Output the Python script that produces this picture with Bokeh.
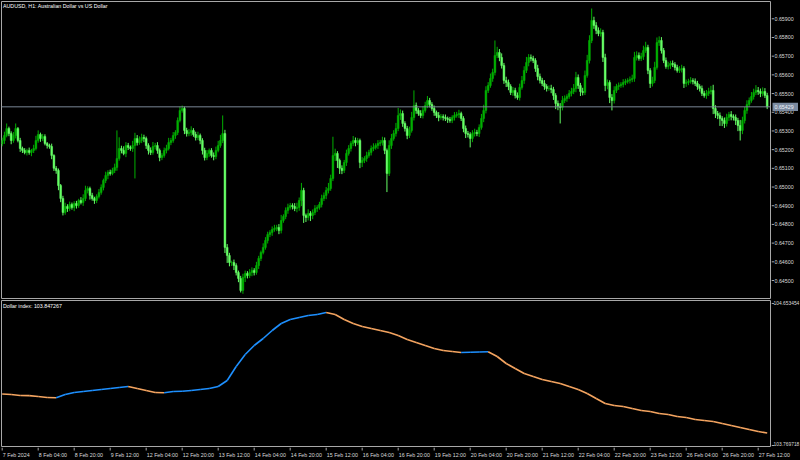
from bokeh.plotting import figure
from bokeh.layouts import column, row
from bokeh.models import Range1d, Span, ColumnDataSource
from bokeh.core.properties import value
from bokeh.embed import file_html
from bokeh.resources import INLINE

# ---------------- data (AUDUSD H1, 7 Feb 2024 12:00 -> 27 Feb 2024 16:00) ----------------
first_open = 0.65230
closes = [
    0.65249, 0.65276, 0.65313, 0.65286, 0.65249, 0.65276, 0.65313, 0.65249, 0.65206, 0.65196,
    0.65185, 0.65196, 0.65185, 0.65196, 0.65206, 0.65249, 0.65281, 0.65260, 0.65270, 0.65233,
    0.65222, 0.65217, 0.65169, 0.65100, 0.65089, 0.65008, 0.64939, 0.64864, 0.64896, 0.64885,
    0.64907, 0.64891, 0.64912, 0.64901, 0.64928, 0.64917, 0.64939, 0.64982, 0.64992, 0.64955,
    0.64939, 0.64928, 0.64949, 0.64971, 0.64998, 0.65035, 0.65062, 0.65078, 0.65073, 0.65089,
    0.65105, 0.65153, 0.65206, 0.65196, 0.65180, 0.65222, 0.65212, 0.65206, 0.65222, 0.65260,
    0.65238, 0.65249, 0.65265, 0.65260, 0.65222, 0.65196, 0.65185, 0.65217, 0.65222, 0.65196,
    0.65158, 0.65169, 0.65196, 0.65206, 0.65238, 0.65249, 0.65276, 0.65292, 0.65356, 0.65410,
    0.65420, 0.65303, 0.65286, 0.65292, 0.65303, 0.65281, 0.65265, 0.65276, 0.65249, 0.65196,
    0.65158, 0.65180, 0.65196, 0.65169, 0.65163, 0.65196, 0.65222, 0.65249, 0.65286, 0.64677,
    0.64634, 0.64596, 0.64596, 0.64580, 0.64543, 0.64511, 0.64447, 0.64516, 0.64538, 0.64527,
    0.64543, 0.64554, 0.64543, 0.64580, 0.64618, 0.64650, 0.64677, 0.64714, 0.64746, 0.64757,
    0.64773, 0.64778, 0.64784, 0.64768, 0.64821, 0.64842, 0.64875, 0.64891, 0.64901, 0.64896,
    0.64885, 0.64891, 0.64928, 0.64982, 0.64848, 0.64837, 0.64859, 0.64848, 0.64864, 0.64885,
    0.64891, 0.64907, 0.64939, 0.64955, 0.64982, 0.64992, 0.65046, 0.65169, 0.65180, 0.65142,
    0.65100, 0.65089, 0.65131, 0.65180, 0.65206, 0.65233, 0.65249, 0.65238, 0.65249, 0.65131,
    0.65142, 0.65153, 0.65169, 0.65185, 0.65206, 0.65212, 0.65222, 0.65233, 0.65238, 0.65249,
    0.65196, 0.65073, 0.65222, 0.65260, 0.65286, 0.65313, 0.65383, 0.65393, 0.65340, 0.65313,
    0.65276, 0.65303, 0.65372, 0.65436, 0.65410, 0.65393, 0.65383, 0.65410, 0.65436, 0.65463,
    0.65442, 0.65420, 0.65399, 0.65383, 0.65372, 0.65377, 0.65372, 0.65367, 0.65361, 0.65356,
    0.65372, 0.65383, 0.65388, 0.65393, 0.65367, 0.65313, 0.65286, 0.65281, 0.65260, 0.65286,
    0.65292, 0.65286, 0.65319, 0.65367, 0.65410, 0.65517, 0.65543, 0.65581, 0.65613, 0.65704,
    0.65720, 0.65693, 0.65650, 0.65570, 0.65559, 0.65538, 0.65506, 0.65517, 0.65490, 0.65479,
    0.65533, 0.65570, 0.65624, 0.65666, 0.65693, 0.65688, 0.65677, 0.65634, 0.65591, 0.65570,
    0.65554, 0.65538, 0.65527, 0.65527, 0.65522, 0.65490, 0.65447, 0.65431, 0.65426, 0.65463,
    0.65474, 0.65484, 0.65501, 0.65511, 0.65527, 0.65586, 0.65543, 0.65511, 0.65506, 0.65597,
    0.65677, 0.65784, 0.65891, 0.65864, 0.65838, 0.65821, 0.65827, 0.65693, 0.65543, 0.65559,
    0.65479, 0.65463, 0.65517, 0.65538, 0.65543, 0.65549, 0.65559, 0.65565, 0.65570, 0.65575,
    0.65581, 0.65693, 0.65704, 0.65688, 0.65698, 0.65730, 0.65747, 0.65624, 0.65554, 0.65570,
    0.65640, 0.65773, 0.65784, 0.65730, 0.65677, 0.65645, 0.65650, 0.65661, 0.65656, 0.65640,
    0.65624, 0.65629, 0.65634, 0.65554, 0.65559, 0.65565, 0.65570, 0.65565, 0.65554, 0.65538,
    0.65527, 0.65501, 0.65490, 0.65501, 0.65511, 0.65517, 0.65420, 0.65393, 0.65383, 0.65367,
    0.65356, 0.65340, 0.65372, 0.65388, 0.65377, 0.65372, 0.65356, 0.65329, 0.65303, 0.65356,
    0.65410, 0.65442, 0.65463, 0.65484, 0.65506, 0.65517, 0.65511, 0.65501, 0.65511, 0.65490,
    0.65429,
]
# upper / lower shadow lengths in points (1e-5)
up_wick = [
    15, 20, 27, 10, 12, 18, 27, 8, 14, 10, 12, 9, 15, 8, 20, 25, 22, 10, 14, 12,
    8, 10, 15, 6, 12, 10, 8, 14, 20, 12, 15, 10, 12, 14, 9, 18, 22, 25, 12, 10,
    14, 9, 12, 18, 16, 10, 20, 12, 15, 14, 20, 150, 60, 15, 22, 18, 14, 10, 25, 30,
    18, 22, 20, 15, 10, 12, 16, 24, 14, 18, 10, 12, 15, 20, 25, 14, 18, 12, 16, 20,
    16, 10, 14, 18, 22, 12, 15, 20, 10, 12, 14, 18, 10, 12, 16, 20, 25, 30, 97, 20,
    18, 14, 10, 16, 12, 10, 14, 20, 15, 12, 18, 16, 12, 20, 14, 10, 22, 18, 15, 12,
    16, 20, 14, 18, 30, 12, 16, 20, 14, 12, 18, 25, 16, 40, 14, 10, 22, 12, 16, 18,
    12, 14, 20, 16, 18, 30, 20, 100, 25, 12, 10, 16, 14, 20, 18, 12, 24, 16, 14, 10,
    18, 12, 20, 14, 16, 22, 12, 18, 14, 20, 16, 10, 28, 24, 18, 30, 40, 22, 16, 12,
    14, 20, 30, 81, 16, 12, 18, 22, 20, 24, 14, 12, 16, 10, 18, 14, 12, 16, 10, 14,
    12, 18, 14, 20, 10, 12, 16, 14, 12, 18, 20, 14, 16, 24, 30, 22, 18, 26, 20, 80,
    30, 18, 22, 14, 20, 16, 12, 18, 14, 16, 20, 24, 22, 30, 18, 16, 14, 12, 20, 16,
    14, 18, 12, 16, 20, 14, 12, 16, 18, 24, 16, 12, 18, 20, 24, 30, 16, 14, 20, 26,
    30, 28, 64, 20, 18, 16, 22, 14, 20, 16, 12, 18, 22, 14, 16, 12, 18, 14, 12, 16,
    20, 30, 22, 16, 20, 26, 30, 14, 12, 20, 30, 27, 22, 18, 14, 16, 20, 14, 16, 12,
    14, 18, 20, 12, 16, 14, 18, 12, 16, 14, 12, 16, 14, 18, 20, 24, 30, 18, 14, 16,
    12, 16, 20, 14, 18, 12, 16, 14, 30, 20, 18, 22, 16, 24, 20, 28, 18, 16, 22, 18,
    14,
]
dn_wick = [
    12, 18, 10, 14, 20, 12, 16, 10, 18, 14, 10, 16, 12, 20, 14, 10, 12, 18, 14, 10,
    16, 12, 20, 14, 18, 25, 20, 16, 12, 18, 14, 12, 20, 16, 12, 10, 18, 14, 16, 22,
    12, 18, 14, 10, 12, 16, 14, 20, 12, 10, 14, 18, 12, 16, 10, 20, 14, 12, 18, 176,
    16, 12, 14, 20, 18, 22, 14, 12, 16, 18, 20, 14, 12, 16, 10, 14, 12, 18, 14, 10,
    12, 20, 16, 14, 18, 12, 16, 14, 20, 22, 16, 14, 18, 12, 20, 14, 10, 12, 14, 30,
    40, 20, 18, 24, 16, 20, 11, 18, 24, 16, 14, 20, 16, 12, 18, 14, 10, 12, 16, 14,
    18, 12, 14, 20, 16, 12, 14, 18, 12, 16, 14, 20, 18, 30, 40, 24, 16, 30, 20, 14,
    18, 12, 16, 14, 20, 16, 12, 14, 30, 40, 30, 20, 14, 18, 12, 16, 14, 20, 12, 30,
    24, 14, 18, 12, 16, 14, 12, 18, 14, 16, 20, 100, 14, 18, 12, 16, 14, 24, 18, 16,
    20, 14, 12, 16, 18, 12, 14, 16, 12, 14, 16, 12, 18, 14, 20, 12, 16, 14, 18, 12,
    14, 16, 12, 18, 14, 20, 24, 16, 48, 20, 16, 14, 18, 12, 20, 16, 14, 12, 18, 16,
    14, 20, 16, 18, 24, 20, 14, 18, 16, 12, 16, 12, 18, 14, 20, 16, 14, 18, 20, 16,
    14, 18, 16, 12, 20, 24, 30, 20, 86, 16, 14, 18, 12, 16, 14, 20, 18, 24, 16, 14,
    12, 16, 14, 18, 20, 14, 16, 24, 30, 20, 30, 53, 16, 14, 18, 12, 16, 14, 12, 16,
    14, 18, 16, 12, 14, 18, 12, 20, 24, 16, 14, 12, 18, 16, 14, 12, 16, 18, 14, 16,
    12, 14, 16, 24, 18, 14, 12, 16, 14, 18, 16, 14, 12, 18, 14, 16, 30, 24, 20, 40,
    30, 24, 16, 18, 20, 16, 24, 30, 54, 20, 16, 18, 14, 12, 16, 14, 18, 20, 16, 14,
    12,
]
price_ticks = [0.645, 0.646, 0.647, 0.648, 0.649, 0.650, 0.651, 0.652,
               0.653, 0.654, 0.655, 0.656, 0.657, 0.658, 0.659]
last_price = 0.65429

# Dollar index, one value every 4 bars
dollar_step = 4
dollar_index = [
    104.0880, 104.0849, 104.0787, 104.0780, 104.0725, 104.0664, 104.0650, 104.0850, 104.0973, 104.1034,
    104.1096, 104.1158, 104.1220, 104.1282, 104.1343, 104.1220, 104.1096, 104.0973, 104.0960, 104.1034,
    104.1050, 104.1096, 104.1158, 104.1220, 104.1343, 104.1714, 104.2579, 104.3321, 104.3877, 104.4310,
    104.4804, 104.5237, 104.5484, 104.5608, 104.5731, 104.5793, 104.5917, 104.5793, 104.5484, 104.5237,
    104.5051, 104.4928, 104.4804, 104.4680, 104.4495, 104.4248, 104.4063, 104.3877, 104.3692, 104.3568,
    104.3506, 104.3445, 104.3460, 104.3475, 104.3490, 104.3197, 104.2765, 104.2456, 104.2147, 104.1962,
    104.1776, 104.1653, 104.1529, 104.1343, 104.1158, 104.0911, 104.0602, 104.0293, 104.0169, 104.0107,
    103.9984, 103.9860, 103.9799, 103.9675, 103.9613, 103.9489, 103.9428, 103.9304, 103.9242, 103.9180,
    103.9057, 103.8933, 103.8810, 103.8686, 103.8562, 103.8473,
]
dollar_min = 103.769718
dollar_max = 104.653454
dollar_last = 103.847267

time_label_bars = [0, 16, 32, 48, 64, 80, 96, 112, 128, 144, 160,
                   176, 192, 208, 224, 240, 256, 272, 288, 304, 320, 336]
time_labels = ["7 Feb 2024", "8 Feb 04:00", "8 Feb 20:00", "9 Feb 12:00", "12 Feb 04:00",
               "12 Feb 20:00", "13 Feb 12:00", "14 Feb 04:00", "14 Feb 20:00", "15 Feb 12:00",
               "16 Feb 04:00", "16 Feb 20:00", "19 Feb 12:00", "20 Feb 04:00", "20 Feb 20:00",
               "21 Feb 12:00", "22 Feb 04:00", "22 Feb 20:00", "23 Feb 12:00", "26 Feb 04:00",
               "26 Feb 20:00", "27 Feb 12:00"]

# ---------------- styling ----------------
FONT = value("Liberation Sans")
FS = value("5.3px")
FS_SMALL = value("4.9px")
TXT = "#dcdcdc"
GRID = "#a8a8a8"
BULL = "#00b000"
BEAR = "#66ff66"
BLUE = "#1e90ff"
ORANGE = "#f4a460"

PW = 771          # pane canvas width (frame 769 px + 1 px border each side)
AW = 29           # right price-scale strip
H1 = 299
H2 = 148
H3 = 13

n = len(closes)
xs = list(range(n))
opens = [first_open] + closes[:-1]
highs = [max(o, c) + u * 1e-5 for o, c, u in zip(opens, closes, up_wick)]
lows = [min(o, c) - d * 1e-5 for o, c, d in zip(opens, closes, dn_wick)]
colors = [BULL if c >= o else BEAR for o, c in zip(opens, closes)]

frame_w = PW - 2
x_start = -0.3
x_end = x_start + frame_w / 2.25
px_x = (x_end - x_start) / frame_w


def pane(height, y_range, top=1):
    p = figure(width=PW, height=height, output_backend="svg", toolbar_location=None,
               x_range=Range1d(x_start, x_end), y_range=y_range,
               x_axis_location=None, y_axis_location=None,
               background_fill_color="black", border_fill_color="black",
               min_border_left=1, min_border_right=1, min_border_top=top, min_border_bottom=0)
    p.grid.visible = False
    p.outline_line_color = GRID
    p.outline_line_width = 1
    return p


def strip(height, y_range, top=1):
    a = figure(width=AW, height=height, output_backend="svg", toolbar_location=None,
               x_range=Range1d(0, AW), y_range=y_range,
               x_axis_location=None, y_axis_location=None,
               background_fill_color="black", border_fill_color="black",
               min_border_left=0, min_border_right=0, min_border_top=top, min_border_bottom=0)
    a.grid.visible = False
    a.outline_line_color = None
    return a


# ---------------- main price pane ----------------
y1_lo, y1_hi = 0.643984, 0.659925
py_1 = (y1_hi - y1_lo) / (H1 - 1)
yr1 = Range1d(y1_lo, y1_hi)
p1 = pane(H1, yr1)

src = ColumnDataSource(dict(x=xs, o=opens, c=closes, h=highs, l=lows, col=colors))
p1.segment(x0="x", y0="h", x1="x", y1="l", color="col", line_width=1, source=src)
p1.vbar(x="x", top="o", bottom="c", width=0.8, fill_color="col", line_color="col",
        line_width=0.5, source=src)
p1.add_layout(Span(location=last_price, dimension="width", line_color="#7a8696", line_width=1))
p1.text(x=[x_start + 1.5 * px_x], y=[y1_hi - 1.5 * py_1],
        text=["AUDUSD, H1:  Australian Dollar vs US Dollar"],
        text_font=FONT, text_font_size=FS, text_color="#ffffff",
        text_baseline="top", text_align="left")

a1 = strip(H1, yr1)
a1.segment(x0=[0] * len(price_ticks), x1=[2.5] * len(price_ticks),
           y0=price_ticks, y1=price_ticks, line_color=GRID, line_width=1)
a1.text(x=[3] * len(price_ticks), y=price_ticks, text=["%.5f" % t for t in price_ticks],
        text_font=FONT, text_font_size=FS, text_color=TXT,
        text_baseline="middle", text_align="left")
a1.quad(left=[1], right=[26.5], bottom=[last_price - 4.2 * py_1], top=[last_price + 4.2 * py_1],
        fill_color="#7a8aa0", line_color=None)
a1.text(x=[3], y=[last_price], text=["%.5f" % last_price],
        text_font=FONT, text_font_size=FS, text_color="#eef2f8",
        text_baseline="middle", text_align="left")

# ---------------- dollar index pane ----------------
pad = (dollar_max - dollar_min) * 2 / 143
py_2 = (dollar_max - dollar_min + 2 * pad) / 147
yr2 = Range1d(dollar_min - pad, dollar_max + pad)
p2 = pane(H2, yr2)

dx = [k * dollar_step for k in range(len(dollar_index))]
seg = dict(x0=dx[:-1], x1=dx[1:], y0=dollar_index[:-1], y1=dollar_index[1:],
           col=[BLUE if b >= a else ORANGE for a, b in zip(dollar_index[:-1], dollar_index[1:])])
p2.segment(x0="x0", y0="y0", x1="x1", y1="y1", color="col", line_width=1.6,
           source=ColumnDataSource(seg))
p2.text(x=[x_start + 1.5 * px_x], y=[dollar_max + pad - 2.5 * py_2],
        text=["Dollar index: %.6f" % dollar_last],
        text_font=FONT, text_font_size=FS, text_color="#ffffff",
        text_baseline="top", text_align="left")

a2 = strip(H2, Range1d(dollar_min - pad, dollar_max + pad + py_2), top=0)
d_ticks = [dollar_max, dollar_min]
a2.segment(x0=[0, 0], x1=[2.5, 2.5], y0=d_ticks, y1=d_ticks, line_color=GRID, line_width=1)
a2.text(x=[2, 2], y=[dollar_max, dollar_min + 1.2 * py_2], text=["%.6f" % t for t in d_ticks],
        text_font=FONT, text_font_size=FS_SMALL, text_color=TXT,
        text_baseline="middle", text_align="left")

# ---------------- time scale ----------------
p3 = figure(width=PW + AW, height=H3, output_backend="svg", toolbar_location=None,
            x_range=Range1d(x_start - px_x, x_start + (PW + AW - 1) * px_x), y_range=Range1d(0, H3),
            x_axis_location=None, y_axis_location=None,
            background_fill_color="black", border_fill_color="black",
            min_border_left=0, min_border_right=0, min_border_top=0, min_border_bottom=0)
p3.grid.visible = False
p3.outline_line_color = None
p3.segment(x0=time_label_bars, x1=time_label_bars, y0=[H3] * len(time_label_bars),
           y1=[H3 - 3] * len(time_label_bars), line_color=GRID, line_width=1)
p3.text(x=[b + 0.6 * px_x for b in time_label_bars], y=[6] * len(time_label_bars), text=time_labels,
        text_font=FONT, text_font_size=FS, text_color=TXT,
        text_baseline="middle", text_align="left")

layout = column(row(p1, a1, spacing=0), row(p2, a2, spacing=0), p3, spacing=0,
                styles={"background-color": "black"})
open("out.html", "w").write(file_html(layout, INLINE))
